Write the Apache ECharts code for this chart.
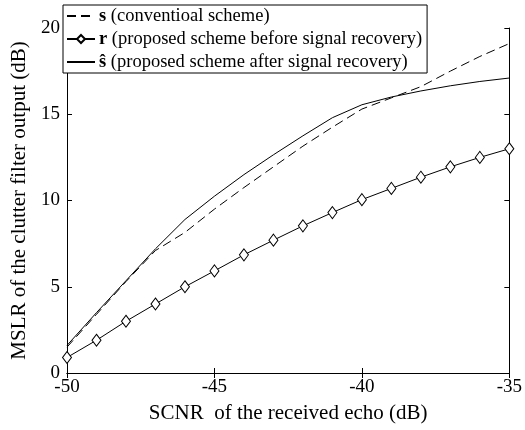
<!DOCTYPE html>
<html>
<head>
<meta charset="utf-8">
<script src="https://cdn.jsdelivr.net/npm/echarts@6/dist/echarts.min.js"></script>
<style>
  html, body { margin: 0; padding: 0; background: #fff; }
  #chart { width: 525px; height: 430px; }
</style>
</head>
<body>
<div id="chart"></div>
<script>
  // SCNR values (dB)
  var scnr = [-50, -49, -48, -47, -46, -45, -44, -43, -42, -41, -40, -39, -38, -37, -36, -35]
  // s: conventional scheme
  var conventional = [1.5, 3.4, 5.3, 7.1, 8.15, 9.5, 10.75, 11.95, 13.15, 14.25, 15.3, 15.95, 16.6, 17.5, 18.35, 19.1]
  // r: proposed scheme before signal recovery
  var beforeRecovery = [0.9, 1.9, 3.0, 4.0, 5.0, 5.92, 6.85, 7.7, 8.53, 9.3, 10.05, 10.7, 11.35, 11.95, 12.5, 13.0]
  // s hat: proposed scheme after signal recovery
  var afterRecovery = [1.6, 3.5, 5.35, 7.2, 8.9, 10.25, 11.5, 12.65, 13.75, 14.8, 15.55, 16.0, 16.35, 16.65, 16.9, 17.1]
  var xTicks = [-50, -45, -40, -35]
  var yTicks = [0, 5, 10, 15, 20]

  function pairs (ys) {
    return scnr.map(function (x, i) { return [x, ys[i]] })
  }

  var font = 'Liberation Serif'
  var chart = echarts.init(document.getElementById('chart'))
  var boxAxisLine = { show: true, lineStyle: { color: '#000', width: 1 } }
  var inTick = { show: true, inside: true, length: 5, lineStyle: { color: '#000' } }
  // hide the default marker in the legend for lines without symbols
  var noMarker = { color: 'rgba(0,0,0,0)', borderWidth: 0 }

  chart.setOption({
    animation: false,
    backgroundColor: '#fff',
    grid: { left: 67, right: 12, top: 28, bottom: 57 },
    legend: {
      orient: 'vertical',
      left: 63,
      top: 5,
      padding: [1, 5, 1, 3],
      itemGap: 3,
      itemWidth: 28,
      itemHeight: 10,
      backgroundColor: '#fff',
      borderColor: '#000',
      borderWidth: 1,
      borderRadius: 0,
      data: [
        { name: 's', itemStyle: noMarker },
        { name: 'r' },
        { name: 'shat', itemStyle: noMarker }
      ],
      formatter: function (name) {
        if (name === 's') return '{b|s} (conventioal scheme)'
        if (name === 'r') return '{b|r} (proposed scheme before signal recovery)'
        return '{b|s\u0302} (proposed scheme after signal recovery)'
      },
      textStyle: {
        fontFamily: font,
        fontSize: 18.5,
        lineHeight: 20,
        color: '#000',
        padding: [0, 0, 0, -1],
        rich: {
          b: { fontFamily: font, fontSize: 18.5, fontWeight: 'bold', color: '#000' }
        }
      }
    },
    xAxis: [{
      type: 'value',
      min: -50,
      max: -35,
      interval: 5,
      name: 'SCNR  of the received echo (dB)',
      nameLocation: 'middle',
      nameGap: 30,
      nameTextStyle: { fontFamily: font, fontSize: 21, color: '#000' },
      axisLine: boxAxisLine,
      axisTick: inTick,
      splitLine: { show: false },
      axisLabel: {
        fontFamily: font,
        fontSize: 19,
        color: '#000',
        margin: 5,
        formatter: function (v) { return xTicks.indexOf(v) >= 0 ? String(v) : '' }
      }
    }, {
      type: 'value',
      position: 'top',
      min: -50,
      max: -35,
      interval: 5,
      axisLine: boxAxisLine,
      axisTick: inTick,
      axisLabel: { show: false },
      splitLine: { show: false }
    }],
    yAxis: [{
      type: 'value',
      min: 0,
      max: 20,
      interval: 5,
      name: 'MSLR of the clutter filter output (dB)',
      nameLocation: 'middle',
      nameGap: 32,
      nameTextStyle: { fontFamily: font, fontSize: 21, color: '#000' },
      axisLine: boxAxisLine,
      axisTick: inTick,
      splitLine: { show: false },
      axisLabel: {
        fontFamily: font,
        fontSize: 19,
        color: '#000',
        margin: 7,
        formatter: function (v) { return yTicks.indexOf(v) >= 0 ? String(v) : '' }
      }
    }, {
      type: 'value',
      position: 'right',
      min: 0,
      max: 20,
      interval: 5,
      axisLine: boxAxisLine,
      axisTick: inTick,
      axisLabel: { show: false },
      splitLine: { show: false }
    }],
    series: [
      {
        name: 's',
        type: 'line',
        data: pairs(conventional),
        symbol: 'none',
        lineStyle: { color: '#000', width: 1, type: [9, 5] },
        itemStyle: { color: '#000' }
      },
      {
        name: 'r',
        type: 'line',
        data: pairs(beforeRecovery),
        symbol: 'diamond',
        symbolSize: [9, 12],
        lineStyle: { color: '#000', width: 1 },
        itemStyle: { color: '#fff', borderColor: '#000', borderWidth: 1 }
      },
      {
        name: 'shat',
        type: 'line',
        data: pairs(afterRecovery),
        symbol: 'none',
        lineStyle: { color: '#000', width: 1 },
        itemStyle: { color: '#000' }
      }
    ]
  })
</script>
</body>
</html>
